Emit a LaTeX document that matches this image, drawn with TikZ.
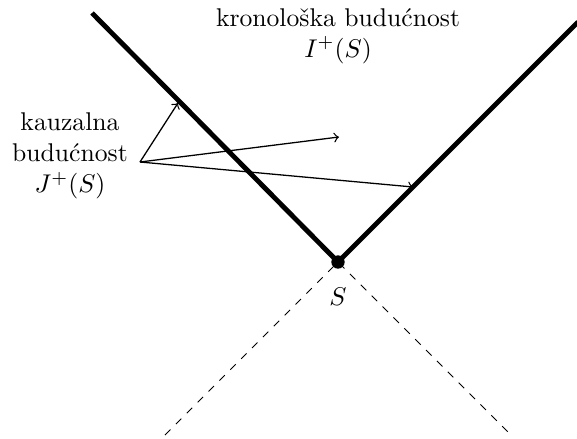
\documentclass[tikz,border=0pt]{standalone}
\begin{document}
\begin{tikzpicture}[x=0.39pt,y=-0.39pt,
  cone/.style={line width=1.9pt},
  past/.style={dashed,line width=0.4pt},
  arr/.style={->,line width=0.5pt},
  lbl/.style={align=center,inner sep=0pt}]
\useasboundingbox (0,0) rectangle (577,439);
\coordinate (S) at (338,262);
\coordinate (tl) at (92,13);
\coordinate (tr) at (578,22);
\coordinate (bl) at (165,435);
\coordinate (br) at (511,435);
\draw[cone] (tl) -- (S) -- (tr);
\draw[past] (bl) -- (S) -- (br);
\fill (S) circle (2.6pt);
\node[lbl] (Slbl) at (338,297) {$S$};
\node[lbl] (chron) at (338,36) {kronološka budućnost\\$I^+(S)$};
\node[lbl] (caus) at (70,156) {kauzalna\\budućnost\\$J^+(S)$};
\coordinate (o) at (140,162);
\coordinate (a1) at (178,103);
\coordinate (a2) at (339,137);
\coordinate (a3) at (413,187);
\draw[arr] (o) -- (a1);
\draw[arr] (o) -- (a2);
\draw[arr] (o) -- (a3);
\end{tikzpicture}
\end{document}
